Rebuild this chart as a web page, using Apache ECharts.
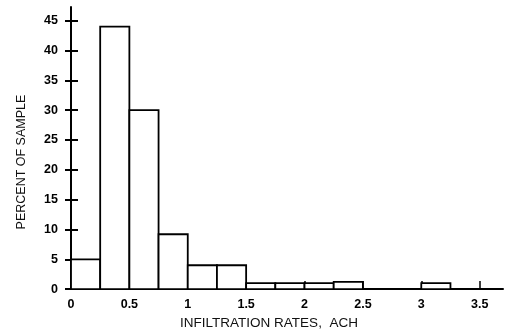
<!DOCTYPE html>
<html>
<head>
<meta charset="utf-8">
<script src="https://cdn.jsdelivr.net/npm/echarts@6/dist/echarts.min.js"></script>
<style>html,body{margin:0;padding:0;background:#fff}#c{width:508px;height:335px}</style>
</head>
<body>
<div id="c"></div>
<script>
// Histogram bins (ACH) and percent of sample
const binStart = [0, 0.25, 0.5, 0.75, 1.0, 1.25, 1.5, 1.75, 2.0, 2.25, 3.0];
const binEnd   = [0.25, 0.5, 0.75, 1.0, 1.25, 1.5, 1.75, 2.0, 2.25, 2.5, 3.25];
const percent  = [5, 44, 30, 9.2, 4, 4, 1, 1, 1, 1.2, 1];
const xTicks = [0, 0.5, 1, 1.5, 2, 2.5, 3, 3.5];
const yTicks = [0, 5, 10, 15, 20, 25, 30, 35, 40, 45];

const data = binStart.map((s, i) => [s, binEnd[i], percent[i]]);
const font = '"Liberation Sans", Arial, sans-serif';

const chart = echarts.init(document.getElementById('c'), null, {renderer: 'canvas'});
chart.setOption({
  animation: false,
  backgroundColor: '#fff',
  grid: {left: 71, right: 5, top: 7, bottom: 41, containLabel: false},
  xAxis: {
    type: 'value', min: 0, max: 3.7,
    name: 'INFILTRATION RATES,  ACH', nameLocation: 'middle', nameGap: 25,
    nameTextStyle: {fontFamily: font, fontSize: 13.5, color: '#111', padding: [0, 36, 0, 0]},
    splitLine: {show: false},
    axisLine: {show: true, lineStyle: {color: '#000', width: 2}},
    axisTick: {show: true, inside: true, length: 8, customValues: xTicks, lineStyle: {color: '#000', width: 1.5}},
    axisLabel: {customValues: xTicks, margin: 9, fontFamily: font, fontSize: 12.5, fontWeight: 'bold', color: '#000',
      formatter: v => String(v)}
  },
  yAxis: [{
    type: 'value', min: 0, max: 47.3, position: 'left',
    name: 'PERCENT OF SAMPLE', nameLocation: 'middle', nameGap: 43, nameRotate: 90,
    nameTextStyle: {fontFamily: font, fontSize: 12.5, color: '#111', padding: [0, 28, 0, 0]},
    splitLine: {show: false},
    axisLine: {show: true, lineStyle: {color: '#000', width: 2}},
    axisTick: {show: true, inside: false, length: 6, customValues: yTicks, lineStyle: {color: '#000', width: 2}},
    axisLabel: {customValues: yTicks, margin: 13, fontFamily: font, fontSize: 12.5, fontWeight: 'bold', color: '#000'}
  }, {
    type: 'value', min: 0, max: 47.3, position: 'left',
    splitLine: {show: false},
    axisLine: {show: false},
    axisTick: {show: true, inside: true, length: 7, customValues: yTicks, lineStyle: {color: '#000', width: 2}},
    axisLabel: {show: false}
  }],
  series: [{
    type: 'custom',
    yAxisIndex: 0,
    data: data,
    encode: {x: [0, 1], y: 2},
    renderItem: function (params, api) {
      const p0 = api.coord([api.value(0), api.value(2)]);
      const p1 = api.coord([api.value(1), 0]);
      return {
        type: 'rect',
        shape: {x: p0[0], y: p0[1], width: p1[0] - p0[0], height: p1[1] - p0[1]},
        style: {fill: '#fff', stroke: '#000', lineWidth: 1.8}
      };
    },
    z: 2
  }]
});
</script>
</body>
</html>
